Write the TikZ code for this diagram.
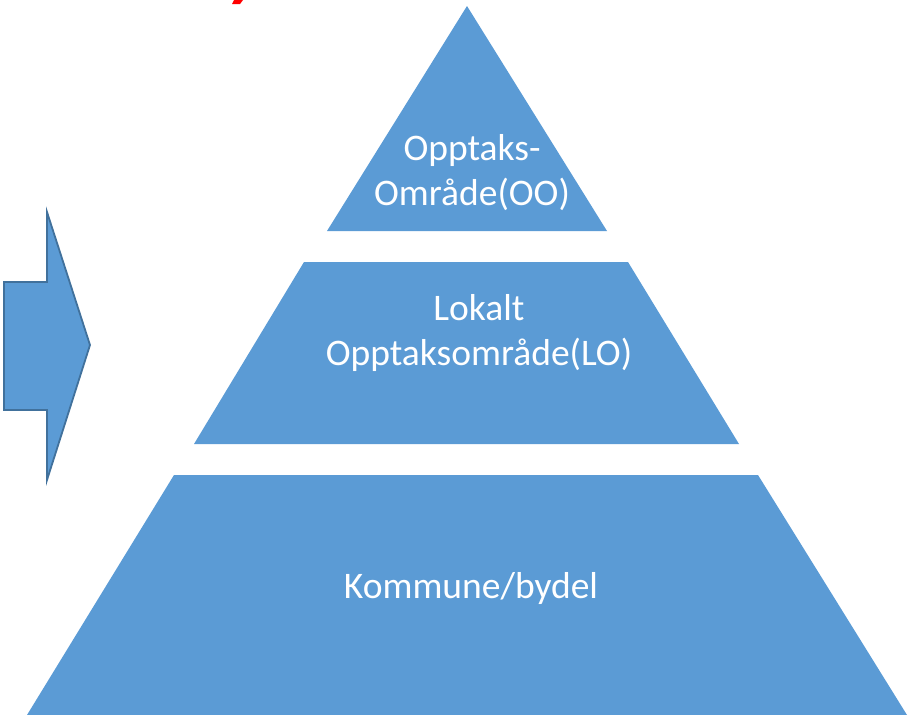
\documentclass[tikz,border=0pt]{standalone}
\usepackage{fontspec}
\setmainfont{Carlito}
\usetikzlibrary{positioning}
\definecolor{levelblue}{HTML}{5B9BD5}
\definecolor{edgeblue}{HTML}{41719C}
\tikzset{
  level/.style   = {fill=levelblue, draw=none},
  label/.style   = {text=white, align=center, inner sep=0pt,
                    font=\fontsize{37.5}{45}\selectfont},
  bigarrow/.style = {fill=levelblue, draw=edgeblue, line width=1.8pt, line join=miter}
}

\begin{document}
\begin{tikzpicture}[x=1pt, y=-1pt]
  \useasboundingbox (0,0) rectangle (911,715);

  % cut-off red mark at the top edge
  \fill[red] (234,0) -- (243,0) -- (240,4) -- (232,4) -- cycle;

  % pyramid levels
  \path[level] (467,6) -- (607,231) -- (327,231) -- cycle;
  \path[level] (304,262) -- (628,262) -- (739,444) -- (194,444) -- cycle;
  \path[level] (174,475) -- (758,475) -- (907,715) -- (27,715) -- cycle;

  % side arrow
  \path[bigarrow] (4,282) -- (47,282) -- (47,212) -- (90,345)
    -- (47,480) -- (47,410) -- (4,410) -- cycle;

  \node[label] (oo) at (472,173) {Opptaks-\\Område(OO)};
  \node[label] (lo) at (479,333) {Lokalt\\Opptaksområde(LO)};
  \node[label] (kb) at (471,588) {Kommune/bydel};
\end{tikzpicture}
\end{document}
